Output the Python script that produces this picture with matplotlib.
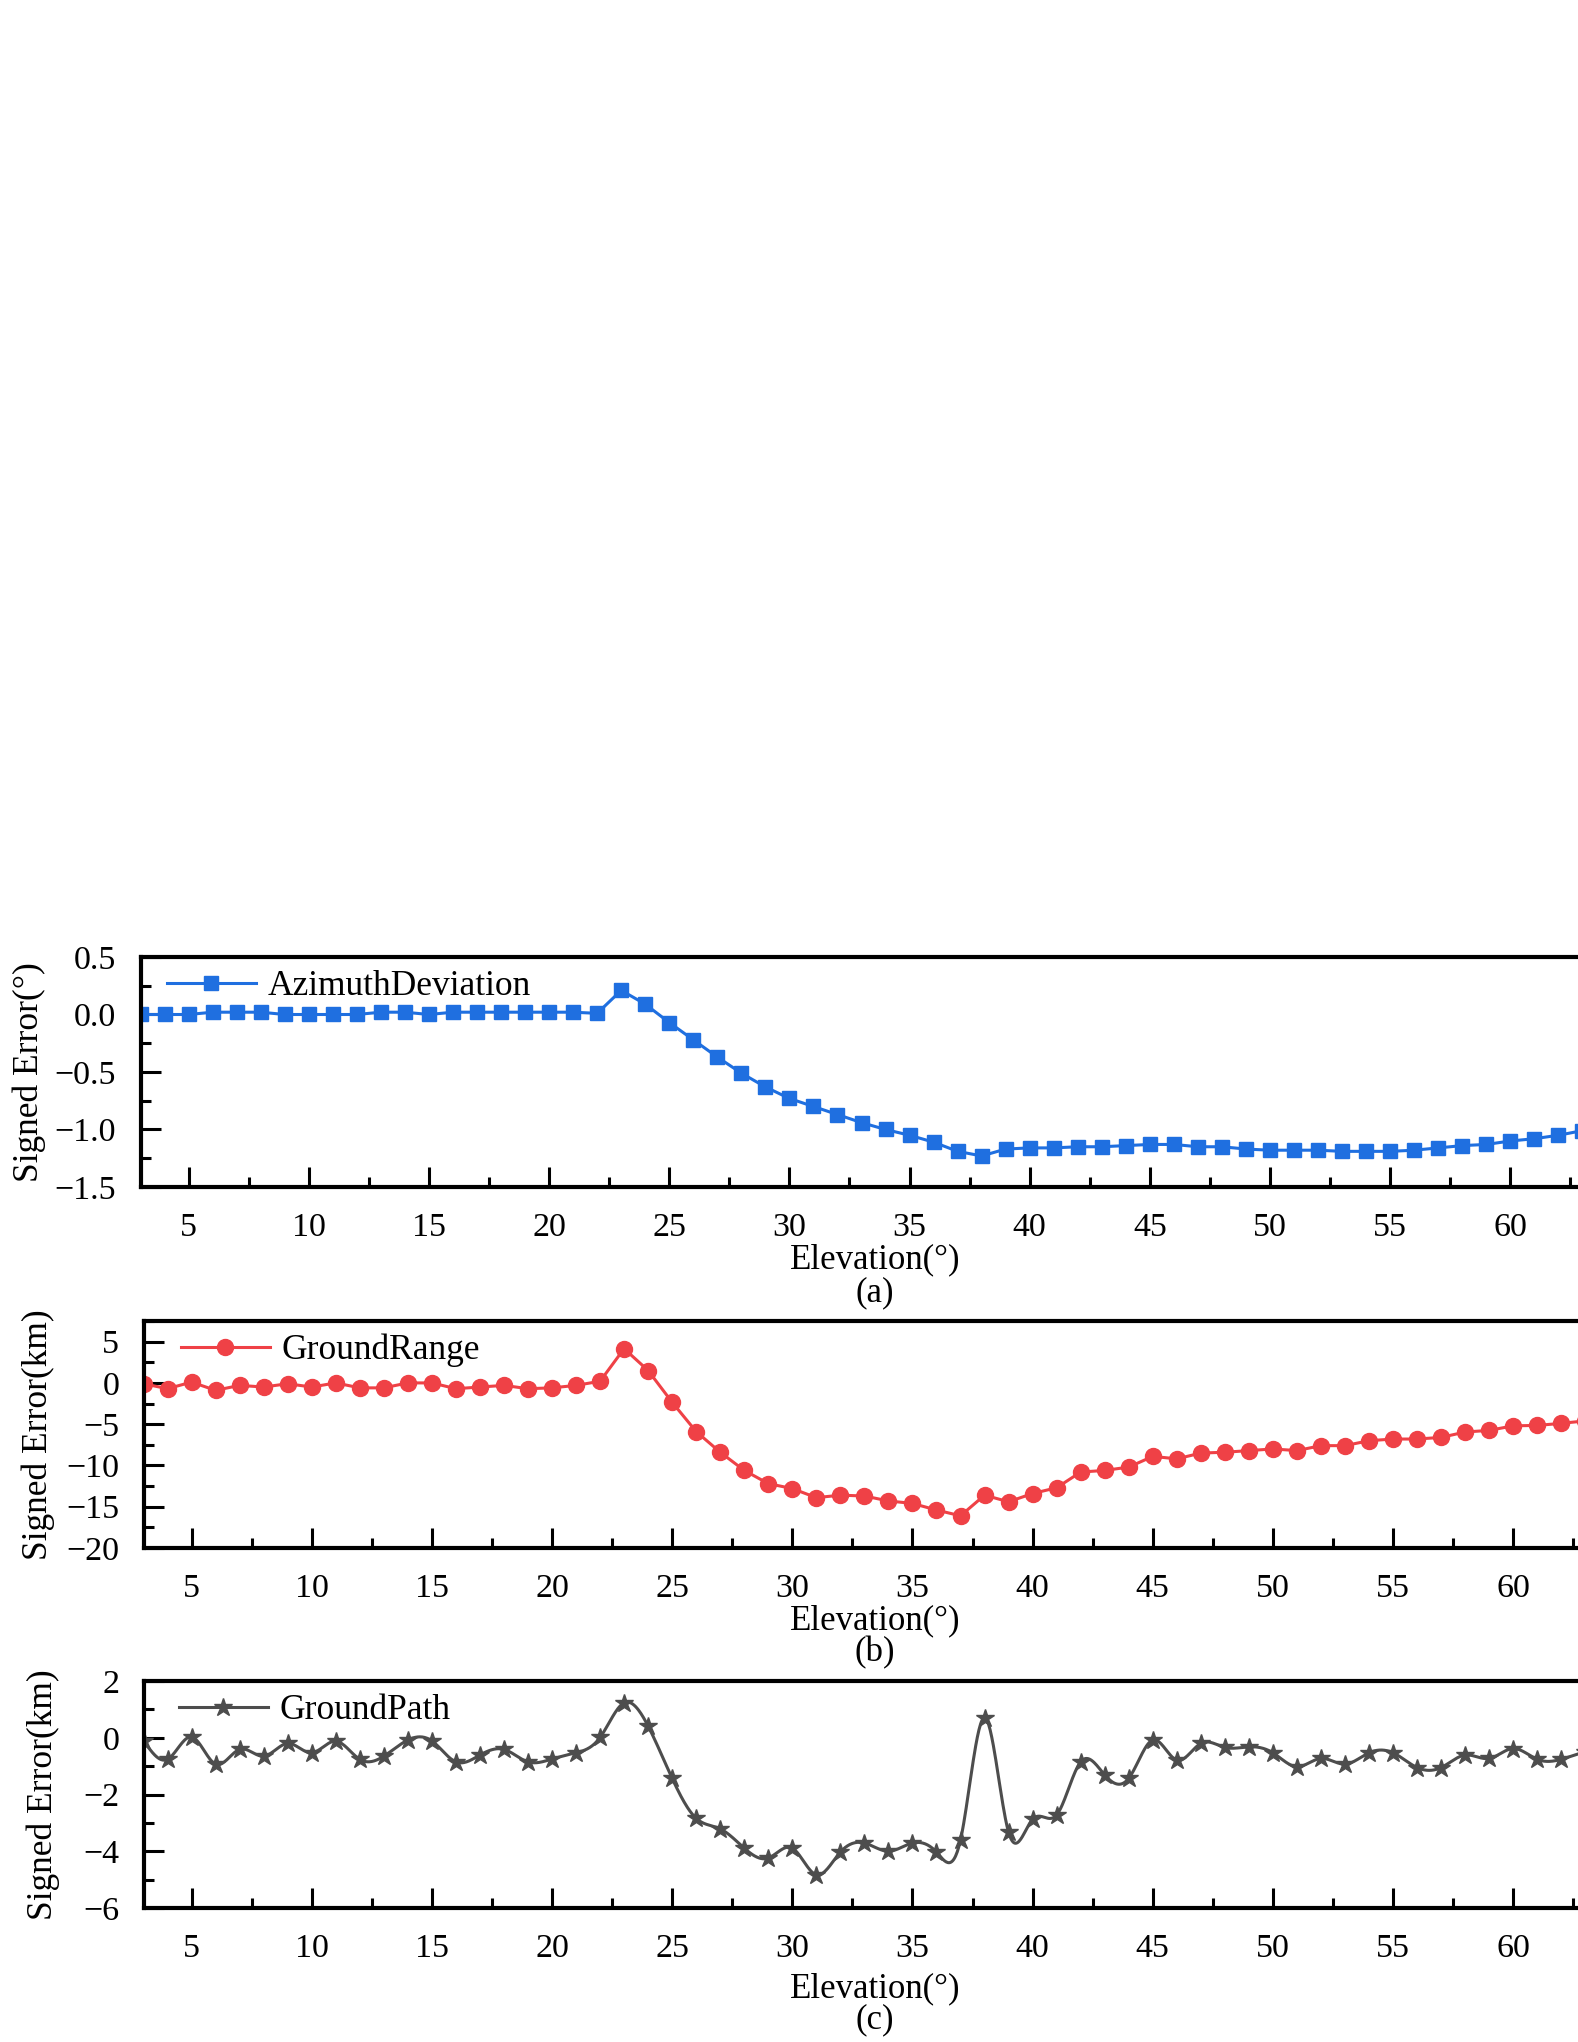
import numpy as np
import matplotlib
matplotlib.use("Agg")
import matplotlib.pyplot as plt
from matplotlib.ticker import MultipleLocator, FuncFormatter

plt.rcParams['font.family'] = ['Liberation Serif', 'DejaVu Serif']
plt.rcParams['mathtext.fontset'] = 'stix'

elevation = list(range(3, 65))

azimuth_dev = [0.00, 0.00, 0.00, 0.02, 0.02, 0.02, 0.00, 0.00, 0.00, 0.00,
               0.02, 0.02, 0.00, 0.02, 0.02, 0.02, 0.02, 0.02, 0.02, 0.01,
               0.21, 0.09, -0.07, -0.22, -0.37, -0.51, -0.63, -0.73, -0.80, -0.87,
               -0.94, -1.00, -1.05, -1.11, -1.19, -1.23, -1.17, -1.16, -1.16, -1.15,
               -1.15, -1.14, -1.13, -1.13, -1.15, -1.15, -1.17, -1.18, -1.18, -1.18,
               -1.19, -1.19, -1.19, -1.18, -1.16, -1.14, -1.13, -1.10, -1.08, -1.05,
               -1.01, -0.97]

ground_range = [-0.1, -0.7, 0.1, -0.9, -0.3, -0.5, -0.1, -0.5, 0.0, -0.6,
                -0.6, 0.0, 0.0, -0.7, -0.5, -0.3, -0.7, -0.6, -0.3, 0.2,
                4.15, 1.5, -2.35, -5.9, -8.4, -10.6, -12.2, -12.8, -13.9, -13.6,
                -13.7, -14.3, -14.6, -15.4, -16.1, -13.6, -14.4, -13.4, -12.7, -10.8,
                -10.6, -10.2, -8.9, -9.2, -8.5, -8.4, -8.2, -8.0, -8.2, -7.6,
                -7.6, -7.0, -6.8, -6.8, -6.6, -5.95, -5.75, -5.2, -5.15, -4.9,
                -4.6, -4.4]

ground_path = [-0.1, -0.76, 0.03, -0.93, -0.41, -0.65, -0.2, -0.53, -0.12, -0.76,
               -0.65, -0.08, -0.11, -0.85, -0.61, -0.41, -0.85, -0.75, -0.53, 0.01,
               1.23, 0.41, -1.43, -2.84, -3.21, -3.89, -4.24, -3.89, -4.83, -4.03,
               -3.71, -4.0, -3.71, -4.03, -3.6, 0.71, -3.33, -2.87, -2.72, -0.85,
               -1.31, -1.43, -0.08, -0.79, -0.2, -0.34, -0.32, -0.53, -1.02, -0.73,
               -0.93, -0.53, -0.53, -1.05, -1.05, -0.61, -0.73, -0.38, -0.76, -0.76,
               -0.5, -0.4]

x_ticks = [5, 10, 15, 20, 25, 30, 35, 40, 45, 50, 55, 60]

W, H = 1578, 2042
DPI = 100
fig = plt.figure(figsize=(W / DPI, H / DPI), dpi=DPI)

XMIN, XMAX = 3, 64
PX_PER_UNIT = 24.03


def natural_spline(x, y, n=30):
    x = np.asarray(x, float)
    y = np.asarray(y, float)
    npt = len(x)
    h = np.diff(x)
    A = np.zeros((npt, npt))
    b = np.zeros(npt)
    A[0, 0] = 1
    A[-1, -1] = 1
    for i in range(1, npt - 1):
        A[i, i - 1] = h[i - 1]
        A[i, i] = 2 * (h[i - 1] + h[i])
        A[i, i + 1] = h[i]
        b[i] = 6 * ((y[i + 1] - y[i]) / h[i] - (y[i] - y[i - 1]) / h[i - 1])
    M = np.linalg.solve(A, b)
    xs, ys = [], []
    for i in range(npt - 1):
        t = np.linspace(x[i], x[i + 1], n, endpoint=False)
        a = x[i + 1] - t
        c = t - x[i]
        s = (M[i] * a ** 3 / (6 * h[i]) + M[i + 1] * c ** 3 / (6 * h[i])
             + (y[i] / h[i] - M[i] * h[i] / 6) * a
             + (y[i + 1] / h[i] - M[i + 1] * h[i] / 6) * c)
        xs.append(t)
        ys.append(s)
    xs.append([x[-1]])
    ys.append([y[-1]])
    return np.concatenate(xs), np.concatenate(ys)


def make_axes(left_px, top_px, bottom_px):
    width_px = (XMAX - XMIN) * PX_PER_UNIT
    ax = fig.add_axes([left_px / W, 1 - bottom_px / H, width_px / W,
                       (bottom_px - top_px) / H])
    ax.set_xlim(XMIN, XMAX)
    for side in ['left', 'bottom', 'top', 'right']:
        ax.spines[side].set_linewidth(3.0)
    ax.xaxis.set_minor_locator(MultipleLocator(2.5))
    ax.set_xticks(x_ticks)
    ax.tick_params(axis='both', which='major', direction='in', length=14.5,
                   width=2.2, labelsize=24.5, top=False, right=False)
    ax.tick_params(axis='both', which='minor', direction='in', length=7,
                   width=2.2, top=False, right=False)
    ax.tick_params(axis='x', which='major', pad=18.5)
    ax.tick_params(axis='y', which='major', pad=17.5)
    return ax, width_px


def finish(ax, width_px, left_px, top_px, bottom_px, ylabel, ylab_x_px,
           panel, handle_px, xlab_px, sub_px):
    hgt = bottom_px - top_px
    ax.set_ylabel(ylabel, fontsize=25.5)
    ax.yaxis.set_label_coords((ylab_x_px - left_px) / width_px, 0.5)
    cx = (875 - left_px) / width_px
    ax.text(cx, (bottom_px - xlab_px) / hgt, 'Elevation(°)', transform=ax.transAxes,
            ha='center', va='center', fontsize=25)
    ax.text(cx, (bottom_px - sub_px) / hgt, panel, transform=ax.transAxes,
            ha='center', va='center', fontsize=25)
    leg = ax.legend(loc='center left',
                    bbox_to_anchor=((handle_px - left_px) / width_px, 0.87),
                    frameon=False, fontsize=25.5, handlelength=2.5,
                    handletextpad=0.35, borderpad=0, borderaxespad=0)
    return leg


BLUE = '#1f6fe0'
RED = '#ef4146'
GRAY = '#4d4d4d'

# (a)
la, ta, ba = 140.6, 957, 1187
ax1, w1 = make_axes(la, ta, ba)
ax1.plot(elevation, azimuth_dev, color=BLUE, lw=2.2, marker='s', markersize=10,
         label='AzimuthDeviation')
ax1.set_ylim(-1.5, 0.5)
ax1.yaxis.set_major_locator(MultipleLocator(0.5))
ax1.yaxis.set_minor_locator(MultipleLocator(0.25))
ax1.yaxis.set_major_formatter(
    FuncFormatter(lambda v, p: ('%.1f' % (0.0 if abs(v) < 1e-9 else v)).replace('-', '\u2212')))
finish(ax1, w1, la, ta, ba, 'Signed Error(°)', 46, '(a)', 167, 1260, 1293)

# (b)
lb, tb, bb = 143.5, 1321, 1548
ax2, w2 = make_axes(lb, tb, bb)
ax2.plot(elevation, ground_range, color=RED, lw=2.2, marker='o', markersize=11.5,
         label='GroundRange')
ax2.set_ylim(-20, 7.5)
ax2.yaxis.set_major_locator(MultipleLocator(5))
ax2.yaxis.set_minor_locator(MultipleLocator(2.5))
finish(ax2, w2, lb, tb, bb, 'Signed Error(km)', 55, '(b)', 181, 1621, 1653)

# (c)
lc, tc, bc = 143.5, 1681, 1908
ax3, w3 = make_axes(lc, tc, bc)
sx, sy = natural_spline(elevation, ground_path)
ax3.plot(sx, sy, color=GRAY, lw=2.2)
ax3.plot(elevation, ground_path, color=GRAY, lw=0, marker='*', markersize=13.5)
ax3.plot([], [], color=GRAY, lw=2.2, marker='*', markersize=13.5, label='GroundPath')
ax3.set_ylim(-6, 2)
ax3.yaxis.set_major_locator(MultipleLocator(2))
ax3.yaxis.set_minor_locator(MultipleLocator(1))
finish(ax3, w3, lc, tc, bc, 'Signed Error(km)', 60, '(c)', 179, 1989, 2020)

fig.savefig('out.png', dpi=DPI)
